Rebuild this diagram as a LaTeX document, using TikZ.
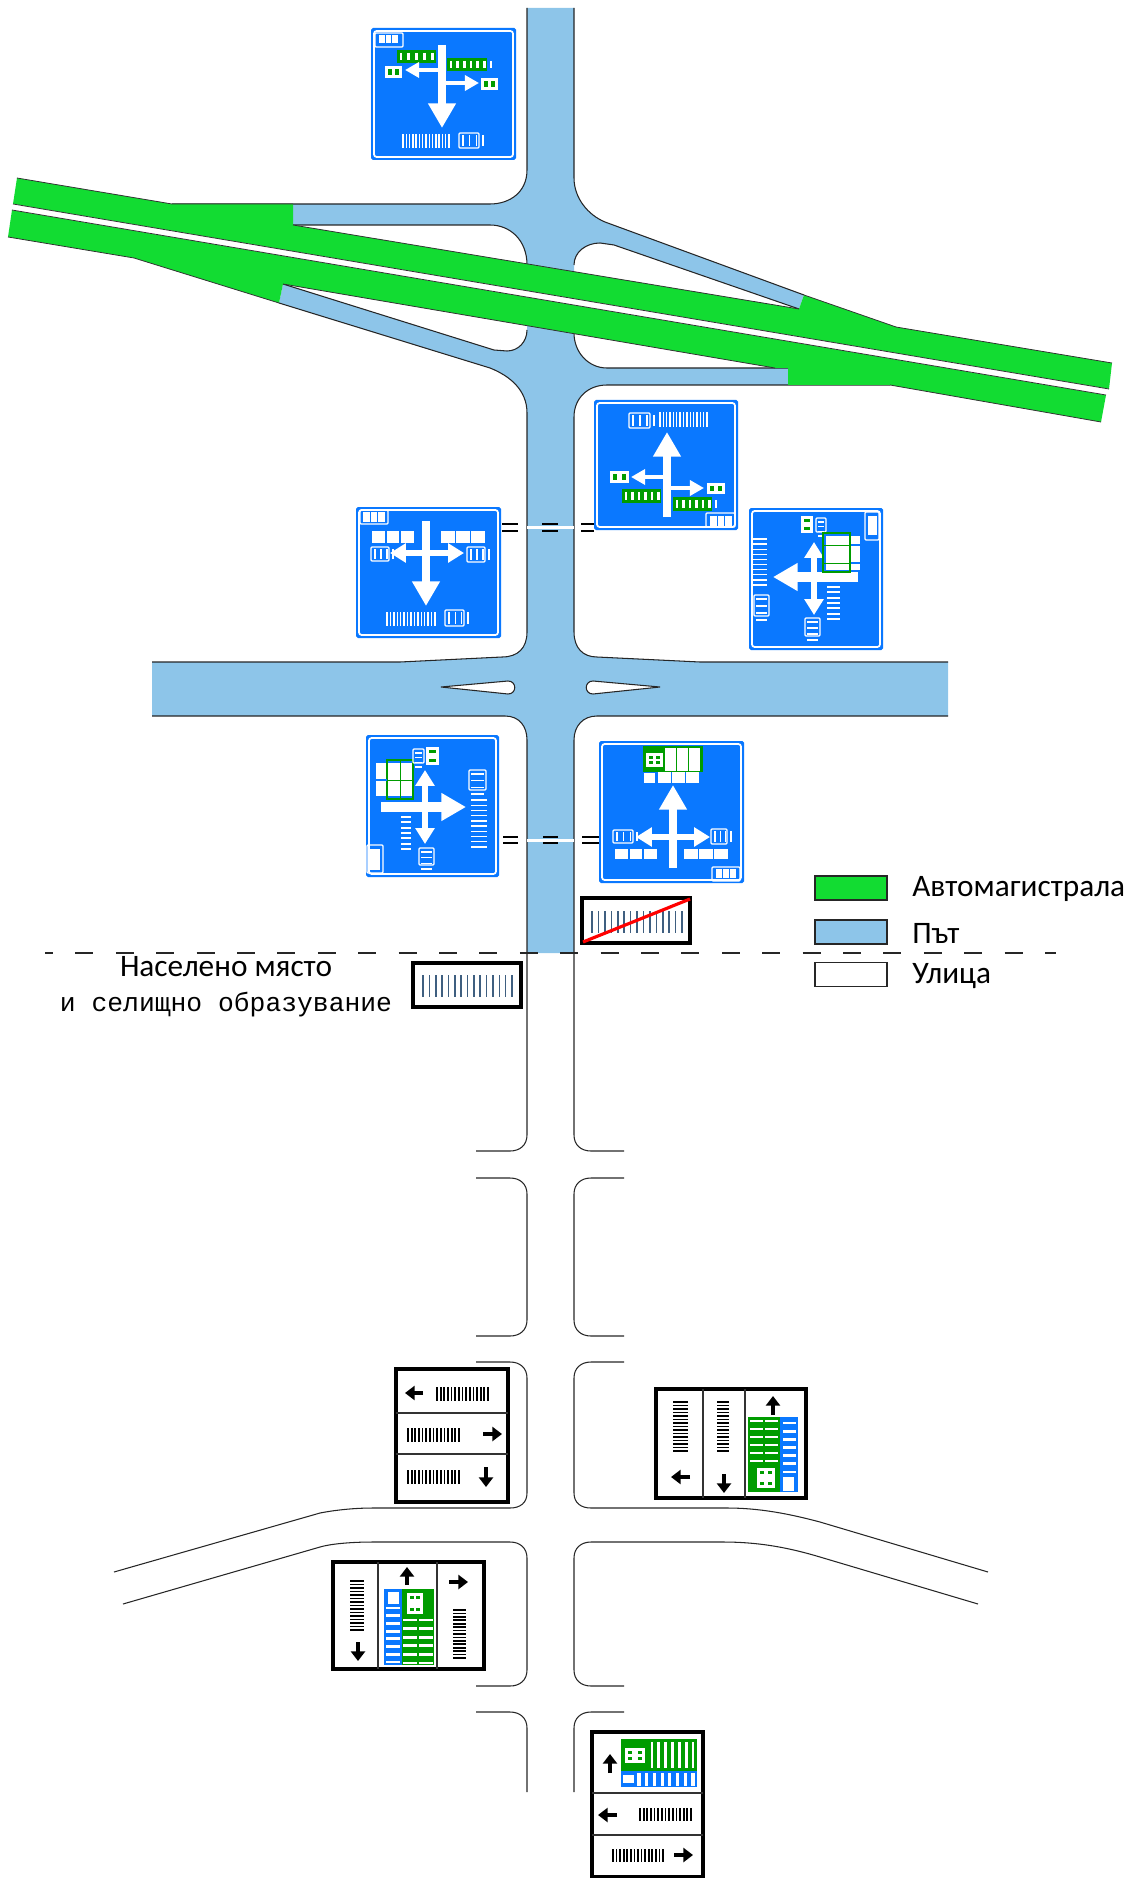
\documentclass[tikz,border=0pt]{standalone}
\usepackage{fontspec}
\setmainfont{Carlito}
\newfontfamily\monofam{Liberation Mono}
\usetikzlibrary{arrows.meta}

\definecolor{roadblue}{HTML}{8DC5E9}
\definecolor{waygreen}{HTML}{12DC32}
\definecolor{signblue}{HTML}{0A78FF}
\definecolor{signgreen}{HTML}{009C00}
\definecolor{barink}{HTML}{3F5F80}

\tikzset{
    edgeline/.style={draw=black!85,line width=0.6pt},
    wayline/.style={draw=black!80,line width=0.45pt},
    barw/.style={white,line width=0.75pt},
    barb/.style={black,line width=1pt},
    barc/.style={barink,line width=0.9pt},
    plate/.style={draw=white,line width=0.7pt,rounded corners=0.6pt},
    wstem/.style={white,line width=2.6pt,-{Triangle[width=8.5pt,length=8pt]}},
    wbold/.style={white,line width=5.6pt,-{Triangle[width=15pt,length=14pt]}},
    wtwin/.style={white,line width=3.4pt,{Triangle[width=10.5pt,length=9pt]}-{Triangle[width=10.5pt,length=9pt]}},
    wmain/.style={white,line width=4.5pt,-{Triangle[width=15pt,length=14pt]}},
    barrow/.style={black,line width=2.4pt,-{Triangle[width=8pt,length=5.5pt]}},
    blackframe/.style={draw=black,fill=white,line width=2.8pt},
    divider/.style={draw=black!80,line width=0.7pt},
    legendbox/.style={draw=black!85,line width=0.8pt,minimum width=72*0.02cm,minimum height=24*0.02cm,inner sep=0pt},
    legendtext/.style={anchor=west,font=\fontsize{17.8}{20}\selectfont,inner sep=0pt},
}

% bars between two corners, last argument is the number of gaps
\newcommand{\vbars}[6][]{\foreach \k in {0,...,#6}{\draw[barw,#1] ({#2+(#4-#2)*\k/#6},#3) -- ({#2+(#4-#2)*\k/#6},#5);}}
\newcommand{\hbars}[6][]{\foreach \k in {0,...,#6}{\draw[barw,#1] (#2,{#3+(#5-#3)*\k/#6}) -- (#4,{#3+(#5-#3)*\k/#6});}}

% blue panel with its white inner frame
\newcommand{\signpanel}[4]{
    \fill[signblue,rounded corners=1pt] (#1,#2) rectangle (#3,#4);
    \draw[white,line width=1pt,rounded corners=1.5pt] ({#1+3},{#2+3}) rectangle ({#3-3},{#4-3});
}
\newcommand{\badge}[4]{
    \fill[white] (#1,#2) rectangle (#3,#4);
    \fill[signgreen] ({#1+3},{#2+3}) rectangle ++(4,3);
    \fill[signgreen] ({#3-7},{#2+3}) rectangle ++(4,3);
    \fill[signgreen] ({#1+3},{#4-6}) rectangle ++(4,3);
    \fill[signgreen] ({#3-7},{#4-6}) rectangle ++(4,3);
}
\newcommand{\platev}[4]{
    \draw[plate] (#1,#2) rectangle (#3,#4);
    \vbars{#1+4}{#2+2}{#3-4}{#4-2}{3}
}
\newcommand{\plateh}[4]{
    \draw[plate] (#1,#2) rectangle (#3,#4);
    \hbars{#1+2}{#2+4}{#3-2}{#4-4}{3}
}
\newcommand{\cells}[6][signblue]{
    \fill[white] (#2,#3) rectangle (#4,#5);
    \ifnum#6>1 \foreach \k in {1,...,\numexpr#6-1\relax}{\draw[#1,line width=0.9pt] ({#2+(#4-#2)*\k/#6},#3) -- ({#2+(#4-#2)*\k/#6},#5);}\fi
}
\newcommand{\greenbar}[5]{
    \fill[signgreen] (#1,#2) rectangle (#3,#4);
    \vbars[line width=1.6pt]{#1+4}{#2+3}{#3-4}{#4-3}{#5}
}

\begin{document}
\begin{tikzpicture}[x=0.02cm,y=-0.02cm]
    \useasboundingbox (0,0) rectangle (1123,1878);

    % Road area
    \fill[roadblue] (527,8) -- (527,170) .. controls (527,192) and (510,204) .. (490,204) -- (293,204) -- (293,225)
        -- (490,225) .. controls (510,225) and (527,240) .. (527,265) -- (527,330) .. controls (527,342) and (518,351) .. (507,351)
        -- (494,350) -- (283,284) -- (279,303) -- (490,368) .. controls (510,376) and (527,390) .. (527,413)
        -- (527,632) .. controls (527,648) and (518,657) .. (502,657) -- (400,662) -- (152,662) -- (152,716)
        -- (505,716) .. controls (519,716) and (527,726) .. (527,740) -- (527,953) -- (574,953)
        -- (574,740) .. controls (574,726) and (583,716) .. (597,716) -- (948,716) -- (948,662) -- (700,662)
        -- (597,657) .. controls (583,657) and (574,648) .. (574,632) -- (574,417) .. controls (574,398) and (588,385) .. (607,385)
        -- (788,385) -- (788,368) -- (607,368) .. controls (588,368) and (574,352) .. (574,333)
        -- (574,265) .. controls (574,252) and (586,243) .. (600,243) -- (614,245) -- (799,309) -- (804,295)
        -- (605,222) .. controls (588,215) and (574,198) .. (574,178) -- (574,8) -- cycle;

    % Road edges, north part
    \draw[edgeline] (527,8) -- (527,170) .. controls (527,192) and (510,204) .. (490,204) -- (172,204);
    \draw[edgeline] (293,225) -- (490,225) .. controls (510,225) and (527,240) .. (527,265);
    \draw[edgeline] (527,330) .. controls (527,342) and (518,351) .. (507,351) -- (494,350) -- (283,284);
    \draw[edgeline] (279,303) -- (490,368) .. controls (510,376) and (527,390) .. (527,413) -- (527,632)
        .. controls (527,648) and (518,657) .. (502,657) -- (400,662) -- (152,662);
    \draw[edgeline] (152,716) -- (505,716) .. controls (519,716) and (527,726) .. (527,740) -- (527,953);
    \draw[edgeline] (574,8) -- (574,178) .. controls (574,198) and (588,215) .. (605,222) -- (804,295);
    \draw[edgeline] (574,265) .. controls (574,252) and (586,243) .. (600,243) -- (614,245) -- (799,309);
    \draw[edgeline] (574,333) .. controls (574,352) and (588,368) .. (607,368) -- (788,368);
    \draw[edgeline] (890,385) -- (607,385) .. controls (588,385) and (574,398) .. (574,417) -- (574,632)
        .. controls (574,648) and (583,657) .. (597,657) -- (700,662) -- (948,662);
    \draw[edgeline] (948,716) -- (597,716) .. controls (583,716) and (574,726) .. (574,740) -- (574,953);

    % Islands
    \fill[white] (441,687) -- (508,681) .. controls (517,681) and (517,694) .. (508,694) -- cycle;
    \draw[edgeline] (441,687) -- (508,681) .. controls (517,681) and (517,694) .. (508,694) -- cycle;
    \fill[white] (660,687) -- (593,681) .. controls (584,681) and (584,694) .. (593,694) -- cycle;
    \draw[edgeline] (660,687) -- (593,681) .. controls (584,681) and (584,694) .. (593,694) -- cycle;

    % Motorway
    \fill[waygreen] (17,178) -- (172,204) -- (293,204) -- (293,225) -- (799,309) -- (804,295) -- (896,327)
        -- (1112,363) -- (1109,389) -- (13,204) -- cycle;
    \fill[waygreen] (12,210) -- (1106,395) -- (1101,422) -- (890,385) -- (788,385) -- (788,368) -- (775,368)
        -- (283,284) -- (279,303) -- (134,258) -- (8,237) -- cycle;
    \fill[white] (13,204) -- (1109,389) -- (1106,395) -- (12,210) -- cycle;
    \draw[wayline] (17,178) -- (172,204) -- (293,204);
    \draw[wayline] (293,225) -- (799,309);
    \draw[wayline] (804,295) -- (896,327) -- (1112,363);
    \draw[wayline] (13,204) -- (1109,389);
    \draw[wayline] (12,210) -- (1106,395);
    \draw[wayline] (1101,422) -- (890,385);
    \draw[wayline] (775,368) -- (283,284);
    \draw[wayline] (279,303) -- (134,258) -- (8,237);

    % Streets, left side
    \draw[edgeline] (527,953) -- (527,1135) .. controls (527,1145) and (520,1151) .. (510,1151) -- (476,1151);
    \draw[edgeline] (476,1178) -- (510,1178) .. controls (520,1178) and (527,1184) .. (527,1194)
        -- (527,1320) .. controls (527,1330) and (520,1336) .. (510,1336) -- (476,1336);
    \draw[edgeline] (476,1362) -- (510,1362) .. controls (520,1362) and (527,1368) .. (527,1378)
        -- (527,1493) .. controls (527,1503) and (520,1508) .. (510,1508) -- (373,1508)
        .. controls (350,1508) and (330,1511) .. (320,1513) -- (114,1572);
    \draw[edgeline] (123,1604) -- (320,1547) .. controls (330,1544) and (350,1542) .. (373,1542) -- (510,1542)
        .. controls (520,1542) and (527,1548) .. (527,1558) -- (527,1670)
        .. controls (527,1680) and (520,1686) .. (510,1686) -- (476,1686);
    \draw[edgeline] (476,1712) -- (510,1712) .. controls (520,1712) and (527,1718) .. (527,1728) -- (527,1792);

    % Streets, right side
    \draw[edgeline] (574,953) -- (574,1135) .. controls (574,1145) and (581,1151) .. (591,1151) -- (624,1151);
    \draw[edgeline] (624,1178) -- (591,1178) .. controls (581,1178) and (574,1184) .. (574,1194)
        -- (574,1320) .. controls (574,1330) and (581,1336) .. (591,1336) -- (624,1336);
    \draw[edgeline] (624,1362) -- (591,1362) .. controls (581,1362) and (574,1368) .. (574,1378)
        -- (574,1493) .. controls (574,1503) and (581,1508) .. (591,1508) -- (727,1508)
        .. controls (760,1508) and (790,1514) .. (820,1522) -- (988,1572);
    \draw[edgeline] (978,1604) -- (820,1557) .. controls (790,1548) and (760,1542) .. (723,1542) -- (591,1542)
        .. controls (581,1542) and (574,1548) .. (574,1558) -- (574,1670)
        .. controls (574,1680) and (581,1686) .. (591,1686) -- (624,1686);
    \draw[edgeline] (624,1712) -- (591,1712) .. controls (581,1712) and (574,1718) .. (574,1728) -- (574,1792);

    % Boundary of the settlement
    \draw[black!85,line width=0.6pt,dash pattern=on 18*0.02cm off 22.4*0.02cm,dash phase=10*0.02cm] (45,953) -- (1056,953);

    % Gantries over the road
    \fill[white] (527,526) rectangle (574,529);
    \foreach \gx/\gw in {502/16,542/16,581/13}{
        \draw[black,line width=0.6pt] (\gx,524) -- ++(\gw,0);
        \draw[black,line width=0.6pt] (\gx,531) -- ++(\gw,0);
    }
    \fill[white] (527,839) rectangle (574,842);
    \foreach \gx/\gw in {503/15,543/15,582/17}{
        \draw[black,line width=0.6pt] (\gx,837) -- ++(\gw,0);
        \draw[black,line width=0.6pt] (\gx,843) -- ++(\gw,0);
    }

    % Sign north of the motorway
    \signpanel{371}{28}{516}{160}
    \draw[plate] (375,33) rectangle (403,47);
    \cells{379}{35}{398}{43}{3}
    \greenbar{397}{50}{436}{63}{5}
    \greenbar{447}{58}{487}{71}{6}
    \badge{385}{66}{402}{78}
    \badge{481}{78}{498}{90}
    \draw[wmain] (442,45) -- (442,128);
    \draw[wstem] (442,70) -- (405,70);
    \draw[wstem] (442,83) -- (479,83);
    \vbars{403}{134}{449}{148}{14}
    \platev{459}{133}{479}{148}

    % Sign between motorway and crossing
    \signpanel{594}{400}{738}{530}
    \vbars{660}{412}{707}{427}{14}
    \platev{629}{413}{650}{428}
    \draw[wmain] (667,517) -- (667,432);
    \draw[wstem] (667,477) -- (631,477);
    \draw[wstem] (667,488) -- (704,488);
    \badge{610}{471}{629}{483}
    \badge{707}{483}{725}{494}
    \greenbar{622}{489}{661}{503}{6}
    \greenbar{673}{497}{712}{511}{6}
    \draw[plate] (706,513) rectangle (735,527);
    \cells{710}{516}{732}{526}{3}

    % Sign on the west side
    \signpanel{356}{507}{501}{638}
    \draw[plate] (360,510) rectangle (388,524);
    \cells{363}{512}{385}{522}{3}
    \draw[wmain] (426,521) -- (426,606);
    \draw[wtwin] (390,553) -- (464,553);
    \cells{372}{531}{414}{543}{3}
    \cells{441}{531}{485}{543}{3}
    \platev{371}{547}{389}{561}
    \platev{467}{547}{485}{562}
    \vbars{387}{612}{435}{626}{14}
    \platev{445}{610}{464}{626}

    % Sign on the east side
    \signpanel{749}{508}{883}{650}
    \draw[plate] (865,512) rectangle (879,540);
    \fill[white] (868,516) rectangle (877,535);
    \draw[wtwin] (814,542) -- (814,615);
    \draw[wbold] (858,577) -- (773,577);
    \badge{801}{516}{813}{533}
    \plateh{816}{518}{826}{532}
    \cells{826}{536}{860}{570}{1}
    \draw[signblue,line width=0.6pt] (850,545) -- (860,545);
    \draw[signblue,line width=0.6pt] (850,563) -- (860,563);
    \draw[signgreen,line width=1pt] (823,533) rectangle (850,572);
    \draw[signgreen,line width=0.4pt] (823,545) -- (850,545);
    \draw[signgreen,line width=0.4pt] (823,563) -- (850,563);
    \hbars{752}{539}{767}{585}{9}
    \hbars[line width=1pt]{827}{587}{840}{619}{6}
    \plateh{754}{595}{769}{616}
    \plateh{805}{618}{820}{636}

    % Sign south-west of the crossing
    \signpanel{366}{735}{499}{877}
    \draw[wtwin] (425,770) -- (425,844);
    \draw[wbold] (381,807) -- (466,807);
    \cells{376}{763}{412}{796}{1}
    \draw[signgreen,line width=1pt] (387,760) rectangle (413,799);
    \draw[signblue,line width=1pt] (376,780) -- (387,780);
    \draw[signgreen,line width=0.4pt] (387,780) -- (413,780);
    \draw[signgreen,line width=0.4pt] (400,760) -- (400,799);
    \plateh{413}{749}{424}{763}
    \badge{426}{747}{439}{765}
    \plateh{469}{770}{486}{790}
    \hbars{471}{800}{487}{847}{9}
    \hbars[line width=1pt]{401}{817}{411}{849}{6}
    \plateh{419}{848}{434}{865}
    \draw[plate] (367,845) rectangle (383,873);
    \fill[white] (370,849) rectangle (380,870);

    % Sign south-east of the crossing
    \signpanel{599}{741}{744}{883}
    \draw[wmain] (673,868) -- (673,785);
    \draw[wtwin] (636,837) -- (710,837);
    \fill[signgreen] (643,746) rectangle (703,772);
    \badge{646}{753}{663}{767}
    \cells[signgreen]{665}{748}{700}{771}{3}
    \cells{644}{773}{655}{783}{1}
    \cells{658}{772}{699}{783}{3}
    \platev{613}{830}{633}{843}
    \platev{711}{829}{727}{844}
    \cells{615}{849}{657}{859}{3}
    \cells{684}{849}{728}{859}{3}
    \draw[plate] (712,867) rectangle (740,881);
    \cells{716}{869}{736}{878}{3}

    % End of the settlement and its start
    \draw[draw=black,fill=white,line width=2.2pt] (582,898) rectangle (690,943);
    \vbars[barc]{592}{911}{682}{933}{14}
    \draw[red,line width=1.8pt] (583,942) -- (690,899);
    \draw[draw=black,fill=white,line width=2.2pt] (413,963) rectangle (521,1007);
    \vbars[barc]{423}{975}{512}{997}{14}

    % Street sign, three rows
    \draw[blackframe] (396,1369) rectangle (508,1502);
    \draw[divider] (396,1413) -- (508,1413);
    \draw[divider] (396,1454) -- (508,1454);
    \draw[barrow] (423,1393) -- (405,1393);
    \vbars[barb]{437}{1387}{488}{1401}{14}
    \vbars[barb]{408}{1428}{459}{1442}{14}
    \draw[barrow] (483,1434) -- (502,1434);
    \vbars[barb]{408}{1470}{459}{1484}{14}
    \draw[barrow] (486,1467) -- (486,1487);

    % Street sign on the north-east corner
    \draw[blackframe] (656,1389) rectangle (806,1498);
    \draw[divider] (703,1389) -- (703,1498);
    \draw[divider] (745,1389) -- (745,1498);
    \hbars[barb]{673}{1402}{688}{1451}{14}
    \draw[barrow] (690,1477) -- (671,1477);
    \hbars[barb]{717}{1402}{729}{1451}{14}
    \draw[barrow] (724,1474) -- (724,1493);
    \draw[barrow] (773,1415) -- (773,1396);
    \fill[signgreen] (748,1417) rectangle (780,1492);
    \fill[signblue] (780,1417) rectangle (798,1492);
    \hbars[line width=1.6pt]{750}{1421}{763}{1461}{5}
    \hbars[line width=1.6pt]{765}{1421}{778}{1461}{5}
    \badge{757}{1468}{775}{1488}
    \hbars[line width=1.6pt]{783}{1423}{796}{1472}{6}
    \fill[white] (783,1477) rectangle (794,1491);

    % Street sign on the south-west corner
    \draw[blackframe] (333,1562) rectangle (484,1669);
    \draw[divider] (378,1562) -- (378,1669);
    \draw[divider] (437,1562) -- (437,1669);
    \hbars[barb]{350}{1581}{364}{1630}{14}
    \draw[barrow] (358,1642) -- (358,1661);
    \draw[barrow] (407,1585) -- (407,1567);
    \fill[signblue] (384,1589) rectangle (402,1665);
    \fill[signgreen] (402,1589) rectangle (434,1665);
    \fill[white] (388,1592) rectangle (399,1604);
    \hbars[line width=1.6pt]{386}{1608}{400}{1662}{7}
    \badge{407}{1593}{423}{1614}
    \hbars[line width=1.6pt]{403}{1620}{417}{1663}{5}
    \hbars[line width=1.6pt]{419}{1620}{433}{1663}{5}
    \draw[barrow] (449,1582) -- (468,1582);
    \hbars[barb]{453}{1610}{466}{1658}{14}

    % Street sign at the bottom
    \draw[blackframe] (592,1732) rectangle (703,1877);
    \draw[divider] (592,1793) -- (703,1793);
    \draw[divider] (592,1835) -- (703,1835);
    \draw[barrow] (610,1773) -- (610,1754);
    \fill[signgreen] (621,1739) rectangle (697,1771);
    \fill[signblue] (621,1771) rectangle (697,1787);
    \badge{625}{1748}{645}{1763}
    \vbars[line width=1.6pt]{652}{1742}{693}{1768}{6}
    \fill[white] (623,1775) rectangle (634,1783);
    \vbars[line width=1.8pt]{639}{1773}{693}{1786}{7}
    \draw[barrow] (617,1815) -- (598,1815);
    \vbars[barb]{640}{1808}{691}{1821}{14}
    \vbars[barb]{613}{1849}{663}{1862}{14}
    \draw[barrow] (674,1855) -- (693,1855);

    % Texts and legend
    \node[font=\fontsize{17.8}{20}\selectfont,inner sep=0pt] (town) at (226,967) {Населено място};
    \node[font=\monofam\fontsize{15}{18}\selectfont,inner sep=0pt] (townsub) at (226,1005) {и селищно образувание};
    \node[legendbox,fill=waygreen] (legway) at (851,888) {};
    \node[legendbox,fill=roadblue] (legroad) at (851,932) {};
    \node[legendbox,fill=white] (legstreet) at (851,974.5) {};
    \node[legendtext] (legwaytext) at (912,889) {Автомагистрала};
    \node[legendtext] (legroadtext) at (912,933) {Път};
    \node[legendtext] (legstreettext) at (912,976) {Улица};
\end{tikzpicture}
\end{document}
